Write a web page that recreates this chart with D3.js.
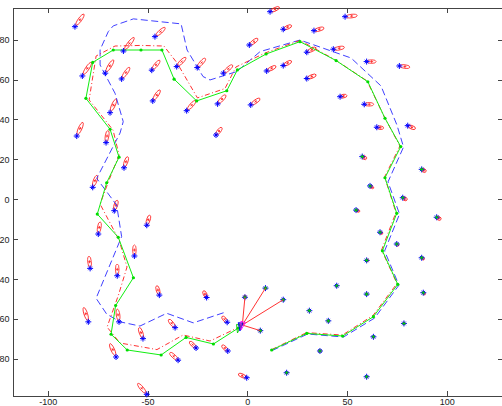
<!DOCTYPE html>
<html>
<head>
<meta charset="utf-8">
<script src="https://cdn.jsdelivr.net/npm/d3@7"></script>
<style>
body { margin: 0; background: #fff; }
svg { display: block; font-family: "Liberation Sans", Arial, sans-serif; }
.axis text { font-size: 9px; fill: #222; }
.axis path, .axis line { stroke: #444; shape-rendering: crispEdges; }
</style>
</head>
<body>
<svg id="chart" width="502" height="406"></svg>
<script>
// tick labels
var xTicks = [-100, -50, 0, 50, 100];
var yTicks = [-80, -60, -40, -20, 0, 20, 40, 60, 80];

// true robot path (green)
var trueX = [12.2, 29.8, 47.8, 63.2, 75.4, 67.7, 74.9, 69.0, 76.9, 69.0, 60.4, 44.5, 26.4, 9.4, -5.0, -10.3, -25.4, -36.7,
    -42.8, -53.3, -67.2, -77.5, -80.9, -68.8, -64.3, -70.5, -75.2, -64.7, -57.1, -66.0, -68.3, -60.2, -43.2, -30.7, -17.0, -4.5];
var trueY = [-75.5, -67.2, -68.5, -58.8, -42.6, -25.8, -7.0, 10.8, 26.4, 40.6, 58.9, 69.5, 79.0, 72.8, 64.8, 54.4, 49.3, 60.2,
    74.8, 74.8, 74.8, 68.6, 50.6, 35.1, 21.1, 8.3, -7.4, -19.0, -39.3, -53.2, -67.6, -75.5, -78.0, -69.2, -72.5, -64.5];

// estimated path (red dash-dot)
var estX = [12.2, 29.7, 47.7, 63.0, 75.0, 67.3, 74.5, 68.8, 76.5, 68.8, 60.0, 44.2, 26.4, 8.9, -5.7, -11.2, -25.0, -35.2,
    -41.8, -53.3, -66.3, -75.8, -79.3, -67.3, -64.3, -69.3, -73.8, -64.3, -60.3, -64.6, -70.3, -63.8, -45.3, -32.2, -18.7, -4.7];
var estY = [-75.3, -66.8, -68.0, -58.2, -42.2, -25.4, -6.6, 11.2, 26.7, 41.0, 59.3, 69.8, 79.6, 73.3, 66.3, 55.5, 50.8, 68.3,
    76.8, 77.1, 76.8, 71.8, 49.8, 34.7, 22.2, 9.7, -2.4, -20.4, -33.9, -48.0, -64.0, -72.0, -75.3, -68.0, -71.0, -64.3];

// odometry path (blue dashed)
var odoX = [12.4, 30.2, 48.2, 63.8, 76.0, 68.8, 76.3, 70.5, 78.3, 75.0, 67.0, 52.0, 26.4, 6.4, -5.3, -18.7, -22.2, -30.2, -33.2,
    -43.8, -57.1, -67.2, -69.7, -73.8, -73.8, -66.3, -62.2, -63.8, -75.5, -65.5, -63.0, -75.8, -70.5, -63.8, -53.8, -40.4, -27.1, -10.3];
var odoY = [-75.8, -67.5, -69.0, -59.5, -43.0, -25.9, -7.4, 8.7, 26.2, 37.2, 56.8, 70.8, 79.8, 74.0, 64.0, 59.8, 61.5, 74.8, 87.9,
    89.0, 90.4, 86.9, 84.0, 74.9, 67.3, 53.1, 38.9, 33.2, 10.5, -2.9, -18.7, -49.6, -57.5, -61.4, -63.5, -57.1, -61.9, -56.3];

// landmarks: true position and estimate error
var lmX = [-86.4, -82.7, -71.2, -62.1, -63.0, -47.9, -46.3, -47.4, -68.8, -85.5,
    11.4, 18.0, 33.4, 1.0, 29.8, -35.4, -25.1, -12.0, 9.7, 18.0,
    29.8, -30.4, -14.9, -15.7, 1.7, 49.0, 43.1, 59.8, 76.2, 46.5,
    58.6, 64.9, 80.4, -70.8, -61.8, -77.5, -66.7, -50.4, -74.7, -56.6,
    -78.8, -65.2, -44.1, -79.7, -64.3, -52.3, -65.8, -50.4, -20.4, -1.2,
    9.1, 18.0, 31.1, 40.6, -36.2, -10.1, 6.5, -25.7, -9.8, -34.7,
    36.4, 19.7, -0.3, 44.8, 59.8, 88.2, 78.5, 63.2, 59.8, 57.6,
    87.4, 61.5, 77.9, 54.5, 94.9, 66.5, 74.9, 59.8, 87.4];
var lmY = [86.5, 61.8, 63.2, 74.3, 60.3, 64.7, 81.5, 49.3, 43.4, 31.7,
    94.0, 85.2, 84.5, 77.3, 73.7, 66.5, 66.0, 63.2, 64.3, 67.0,
    60.5, 44.4, 47.8, 32.2, 47.3, 91.5, 75.2, 69.0, 66.8, 51.4,
    47.6, 36.1, 36.9, 28.4, 15.8, 6.0, -5.7, -13.0, -17.4, -28.4,
    -34.6, -38.3, -48.0, -61.4, -61.4, -69.8, -79.0, -97.7, -49.2, -49.1,
    -44.5, -50.3, -55.8, -60.9, -64.3, -61.6, -65.8, -74.5, -76.0, -80.6,
    -76.0, -86.9, -89.4, -43.3, -47.5, -46.8, -62.2, -68.9, -88.9, 21.4,
    15.0, 6.7, 0.8, -5.4, -9.0, -16.5, -22.4, -30.6, -29.3];
var lmErrX = [2.5, 2.5, 2.3, 3, 2.2, 2.2, 2.8, 2, 1.7, 1.7,
    2.5, 2.2, 2.7, 2.3, 2.5, 2.5, 2.2, 2.5, 2.5, 2.2,
    2.5, 2.5, 2.2, 1.5, 2.5, 3.3, 3, 2.5, 2.8, 1.7,
    2.5, 1.7, 2, 0.5, 1, 1.2, 0.8, 0.8, 0.5, 0,
    -0.3, 0, -0.7, -1.3, -0.5, -1, -1.7, -2.5, -0.8, 0,
    0, 0, 0, 0, -1.7, -1.3, 0, -1.7, -1.5, -2.2,
    0, 0, -2.2, 0, 0, 0.3, 0, 0, 0, 1,
    1, 0.8, 1, 0.8, 1, 0.5, 0.3, 0.3, 0.5];
var lmErrY = [3.5, 3.8, 3.7, 3.8, 3.2, 2.7, 2.5, 3, 3.8, 3.8,
    1.2, 1, 0.7, 1.7, 1.2, 2.5, 2.5, 2.2, 1.3, 1.2,
    1, 2.8, 2.4, 2, 1.7, 0.3, 0.5, 0, -0.3, 0.3,
    0, -0.2, -0.8, 3.3, 3, 3.3, 2.8, 2.7, 3.3, 3,
    3.3, 3.2, 2.5, 4, 3.5, 3, 3.7, 3, 1.7, 0.3,
    0, 0, 0, 0, 2.2, 1.5, 0, 1.7, 1.5, 2,
    0, 0, 1, 0, 0, -0.3, 0, 0, 0, -0.5,
    -0.5, -0.5, -0.5, -0.3, -0.5, -0.3, -0.3, 0, -0.3];

// landmark ids (1-based) in the current map, and the ones observed now
var currentIds = [50, 51, 52, 53, 54, 57, 61, 62, 64, 65, 66, 67, 68, 69, 70, 71, 72, 73, 74, 75, 76, 77, 78, 79];
var observedIds = [50, 51, 52, 57];

// robot poses: true, odometry, estimate
var robotX = [-4.5, -3.5, -2.5];
var robotY = [-64.5, -63.5, -63.0];
var robotHeading = [-100, -95, -105];

var box = { left: 12.5, right: 502.5, top: 7.5, bottom: 395.5 };

var x = d3.scaleLinear().domain([-117.7, 127.9]).range([box.left, box.right]);
var y = d3.scaleLinear().domain([-98.3, 96.1]).range([box.bottom, box.top]);

var svg = d3.select("#chart");

var line = d3.line()
    .x(function (d) { return x(d[0]); })
    .y(function (d) { return y(d[1]); });

var fmt = function (d) { return String(d); };

// axes, ticks point inward
svg.append("g")
    .attr("class", "axis")
    .attr("transform", "translate(0," + box.bottom + ")")
    .call(d3.axisBottom(x).tickValues(xTicks).tickFormat(fmt)
        .tickSizeInner(-5).tickSizeOuter(0).tickPadding(3));

svg.append("g")
    .attr("class", "axis")
    .attr("transform", "translate(0," + box.top + ")")
    .call(d3.axisTop(x).tickValues(xTicks).tickFormat("")
        .tickSizeInner(-5).tickSizeOuter(0));

svg.append("g")
    .attr("class", "axis")
    .attr("transform", "translate(" + box.left + ",0)")
    .call(d3.axisLeft(y).tickValues(yTicks).tickFormat(fmt)
        .tickSizeInner(-5).tickSizeOuter(0).tickPadding(3));

svg.append("g")
    .attr("class", "axis")
    .attr("transform", "translate(" + box.right + ",0)")
    .call(d3.axisRight(y).tickValues(yTicks).tickFormat("")
        .tickSizeInner(-5).tickSizeOuter(0));

var plot = svg.append("g");

// landmark covariance ellipses (red), long axis along the drift
var lm = d3.range(lmX.length).map(function (i) {
    return {
        id: i + 1,
        tx: x(lmX[i]), ty: y(lmY[i]),
        ex: x(lmX[i] + lmErrX[i]), ey: y(lmY[i] + lmErrY[i])
    };
});

lm.forEach(function (d) {
    var dx = d.ex - d.tx, dy = d.ey - d.ty;
    var len = Math.sqrt(dx * dx + dy * dy);
    var ang = len > 0 ? Math.atan2(dy, dx) * 180 / Math.PI : 0;
    var g = plot.append("g")
        .attr("transform", "translate(" + d.ex + "," + d.ey + ") rotate(" + ang + ")");
    g.append("ellipse")
        .attr("rx", 0.65 * len + 1.2)
        .attr("ry", len > 2 ? 1.8 : 1.3)
        .attr("fill", "none")
        .attr("stroke", "#ff2020")
        .attr("stroke-width", 0.8);
    g.append("path")
        .attr("d", "M-1.5,0H1.5M0,-1.5V1.5")
        .attr("stroke", "#ff2020")
        .attr("stroke-width", 0.8);
});

// paths
plot.append("path")
    .datum(d3.zip(odoX, odoY))
    .attr("d", line)
    .attr("fill", "none")
    .attr("stroke", "#2a2aff")
    .attr("stroke-width", 0.9)
    .attr("stroke-dasharray", "7,3.5");

plot.append("path")
    .datum(d3.zip(estX, estY))
    .attr("d", line)
    .attr("fill", "none")
    .attr("stroke", "#ff1a1a")
    .attr("stroke-width", 0.9)
    .attr("stroke-dasharray", "5,2.5,1,2.5");

var truePts = d3.zip(trueX, trueY);
plot.append("path")
    .datum(truePts)
    .attr("d", line)
    .attr("fill", "none")
    .attr("stroke", "#11ee11")
    .attr("stroke-width", 1);

plot.selectAll(".tdot")
    .data(truePts)
    .enter().append("circle")
    .attr("class", "tdot")
    .attr("cx", function (d) { return x(d[0]); })
    .attr("cy", function (d) { return y(d[1]); })
    .attr("r", 1.6)
    .attr("fill", "#00dd00");

// landmark markers (blue *)
plot.selectAll(".lm")
    .data(lm)
    .enter().append("path")
    .attr("class", "lm")
    .attr("transform", function (d) { return "translate(" + d.tx + "," + d.ty + ")"; })
    .attr("d", "M-3,0H3M0,-3V3M-1.8,-1.8L1.8,1.8M-1.8,1.8L1.8,-1.8")
    .attr("stroke", "#0000ff")
    .attr("stroke-width", 1);

plot.selectAll(".cur")
    .data(lm.filter(function (d) { return currentIds.indexOf(d.id) >= 0; }))
    .enter().append("path")
    .attr("class", "cur")
    .attr("transform", function (d) { return "translate(" + d.tx + "," + d.ty + ")"; })
    .attr("d", "M-1.8,0H1.8M0,-1.8V1.8")
    .attr("stroke", "#00cc00")
    .attr("stroke-width", 1.1);

// observation rays from the estimated robot
var rx = x(robotX[2]), ry = y(robotY[2]);
plot.selectAll(".obs")
    .data(lm.filter(function (d) { return observedIds.indexOf(d.id) >= 0; }))
    .enter().append("line")
    .attr("class", "obs")
    .attr("x1", rx).attr("y1", ry)
    .attr("x2", function (d) { return d.tx; })
    .attr("y2", function (d) { return d.ty; })
    .attr("stroke", "#ff3333")
    .attr("stroke-width", 1);

// robot triangles
var robotColors = ["#00cc00", "#0000ff", "#ff00ff"];
robotX.forEach(function (v, i) {
    var cx = x(v), cy = y(robotY[i]);
    var th = -robotHeading[i] * Math.PI / 180;
    var pts = [0, 2.5, -2.5].map(function (da, k) {
        var r = k === 0 ? 5 : 4;
        return [cx + r * Math.cos(th + da), cy + r * Math.sin(th + da)];
    });
    plot.append("polygon")
        .attr("points", pts.map(function (p) { return p.join(","); }).join(" "))
        .attr("fill", i === 1 ? "#000066" : "none")
        .attr("fill-opacity", 0.6)
        .attr("stroke", robotColors[i])
        .attr("stroke-width", 0.9);
});
</script>
</body>
</html>
